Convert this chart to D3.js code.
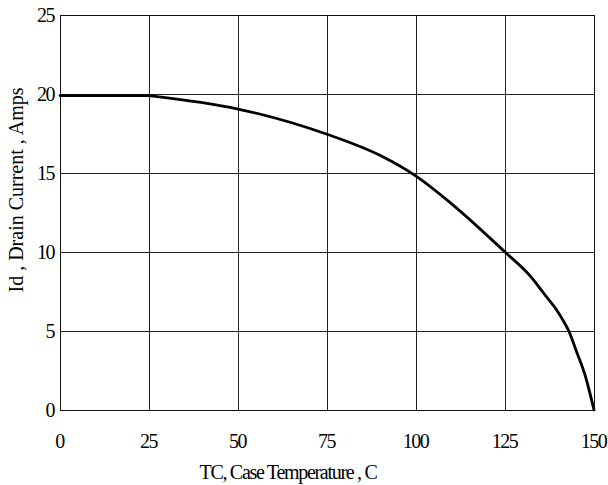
<!DOCTYPE html>
<html>
<head>
<meta charset="utf-8">
<script src="https://cdnjs.cloudflare.com/ajax/libs/d3/7.8.5/d3.min.js"></script>
<style>
  html, body { margin: 0; padding: 0; background: #fff; }
  svg { display: block; font-family: "Liberation Serif", "Times New Roman", serif; }
  svg text { font-family: "Liberation Serif", "Times New Roman", serif !important; }
</style>
</head>
<body>
<svg id="chart"></svg>
<script>
// case temperature (C) vs. max drain current (A)
var temps   = [0, 25, 50, 75, 90, 100, 110, 125, 132, 136, 139.5, 141.5, 143, 145, 147.5, 150];
var current = [19.9, 19.9, 19.05, 17.45, 16.1, 14.8, 13.05, 10, 8.5, 7.35, 6.33, 5.6, 4.96, 3.75, 2.2, 0];
var xTicks = [0, 25, 50, 75, 100, 125, 150];
var yTicks = [0, 5, 10, 15, 20, 25];
var xTitle = "TC, Case Temperature , C";
var yTitle = "Id , Drain Current , Amps";

(function () {
  var W = 608, H = 485;
  var margin = {top: 15, right: 14, bottom: 75, left: 60};
  var width = W - margin.left - margin.right,
      height = H - margin.top - margin.bottom;
  var serif = '"Liberation Serif", "Times New Roman", serif';

  var svg = d3.select("#chart").attr("width", W).attr("height", H);
  var g = svg.append("g")
      .attr("transform", "translate(" + margin.left + "," + margin.top + ")");

  var x = d3.scaleLinear().domain([0, 150]).range([0, width]),
      y = d3.scaleLinear().domain([0, 25]).range([height, 0]);

  // grid via the axes' ticks
  var xa = g.append("g")
      .attr("transform", "translate(0," + height + ")")
      .call(d3.axisBottom(x).tickValues(xTicks).tickSize(-height).tickFormat(d3.format("d")));
  var ya = g.append("g")
      .call(d3.axisLeft(y).tickValues(yTicks).tickSize(-width).tickFormat(d3.format("d")));

  [xa, ya].forEach(function (a) {
    a.attr("font-family", serif);
    a.select(".domain").remove();
    a.selectAll("line").attr("stroke", "#222").attr("stroke-width", 1)
      .attr("shape-rendering", "crispEdges");
    a.selectAll("text")
      .attr("fill", "#000")
      .attr("font-family", serif)
      .style("font-size", "20px")
      .style("letter-spacing", "-1.5px");
  });

  xa.selectAll("text").attr("y", 38).attr("dy", 0).attr("x", -1);
  ya.selectAll("text").attr("x", -6).attr("dy", "0.33em");

  // frame
  g.append("rect")
    .attr("width", width).attr("height", height)
    .attr("fill", "none").attr("stroke", "#111").attr("stroke-width", 1)
    .attr("shape-rendering", "crispEdges");

  var pts = temps.map(function (t, i) { return [t, current[i]]; });
  // flat part up to 25 C, then the derating curve
  var flat = pts.filter(function (d) { return d[0] <= 25; }),
      fall = pts.filter(function (d) { return d[0] >= 25; });

  var straight = d3.line()
      .x(function (d) { return x(d[0]); })
      .y(function (d) { return y(d[1]); });
  var smooth = d3.line()
      .curve(d3.curveMonotoneX)
      .x(function (d) { return x(d[0]); })
      .y(function (d) { return y(d[1]); });

  g.append("path")
    .attr("d", straight(flat) + smooth(fall))
    .attr("fill", "none")
    .attr("stroke", "#000")
    .attr("stroke-width", 2.8)
    .attr("stroke-linecap", "round")
    .attr("stroke-linejoin", "round");

  svg.append("text")
    .attr("x", 288).attr("y", 479)
    .attr("text-anchor", "middle")
    .style("font-size", "20px")
    .style("letter-spacing", "-1.3px")
    .text(xTitle);

  svg.append("text")
    .attr("transform", "translate(23,190) rotate(-90)")
    .attr("text-anchor", "middle")
    .style("font-size", "20px")
    .text(yTitle);
})();
</script>
</body>
</html>
